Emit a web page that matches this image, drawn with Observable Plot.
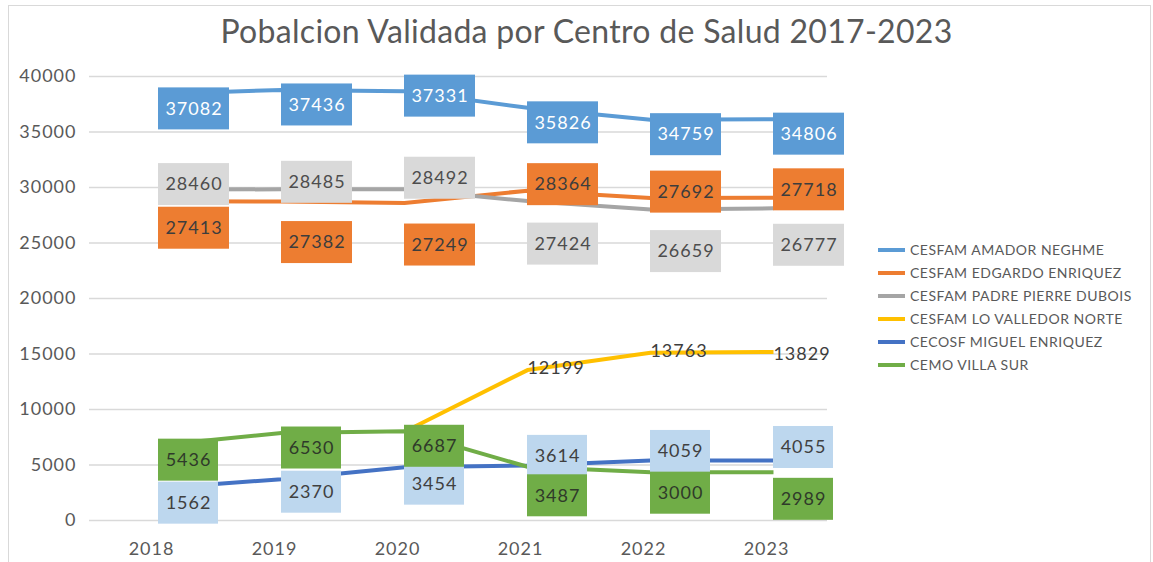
<!DOCTYPE html>
<html>
<head>
<meta charset="utf-8">
<script src="https://cdn.jsdelivr.net/npm/d3@7"></script>
<script src="https://cdn.jsdelivr.net/npm/@observablehq/plot@0.6"></script>
<style>
  html, body { margin: 0; padding: 0; background: #fff; }
  #wrap { position: relative; width: 1153px; height: 562px; overflow: hidden; font-family: "Lato", sans-serif; }
  #chart { position: absolute; left: 0; top: 0; }
  #frame { position: absolute; left: 8px; top: 5px; width: 1141px; height: 560px; border: 1px solid #d9d9d9; z-index: 5; pointer-events: none; }
  #title { position: absolute; left: 10px; width: 1153px; top: 11px; text-align: center; font-size: 32px; color: #595959; letter-spacing: 0.3px; }
  #legend { position: absolute; left: 878px; top: 238px; z-index: 6; }
  .row { height: 23px; display: flex; align-items: center; font-size: 14px; color: #595959; letter-spacing: 0.5px; }
  .sw { width: 27px; height: 4px; margin-right: 5px; }
</style>
</head>
<body>
<div id="wrap">
  <div id="chart"></div>
  <div id="frame"></div>
  <div id="title">Pobalcion Validada por Centro de Salud 2017-2023</div>
  <div id="legend"></div>
</div>
<script>
// ---- data ----
const years = [2018, 2019, 2020, 2021, 2022, 2023];
const seriesNames = [
  "CESFAM AMADOR NEGHME",
  "CESFAM EDGARDO ENRIQUEZ",
  "CESFAM PADRE PIERRE DUBOIS",
  "CESFAM LO VALLEDOR NORTE",
  "CECOSF MIGUEL ENRIQUEZ",
  "CEMO VILLA SUR"
];
const amadorNeghme      = [37082, 37436, 37331, 35826, 34759, 34806];
const edgardoEnriquez   = [27413, 27382, 27249, 28364, 27692, 27718];
const padrePierreDubois = [28460, 28485, 28492, 27424, 26659, 26777];
const loValledorNorte   = [null, null, 6650, 12199, 13763, 13829];
const miguelEnriquez    = [1562, 2370, 3454, 3614, 4059, 4055];
const cemoVillaSur      = [5436, 6530, 6687, 3487, 3000, 2989];
const yTicks = [0, 5000, 10000, 15000, 20000, 25000, 30000, 35000, 40000];

const seriesValues = [amadorNeghme, edgardoEnriquez, padrePierreDubois, loValledorNorte, miguelEnriquez, cemoVillaSur];

// ---- styling / layout (not data) ----
const lineColors = ["#5B9BD5", "#ED7D31", "#A5A5A5", "#FFC000", "#4472C4", "#70AD47"];
const labelStyles = [
  {box: "#5B9BD5", text: "#ffffff", w: 71},
  {box: "#ED7D31", text: "#3d3d3d", w: 71},
  {box: "#D9D9D9", text: "#4d4d4d", w: 71},
  {box: null,      text: "#3d3d3d", w: 57},
  {box: "#BDD7EE", text: "#404040", w: 60},
  {box: "#70AD47", text: "#2f3a2a", w: 60}
];
// manual vertical nudges of each data label (px), null = no label
const labelNudge = [
  [0, 0, -10, 0, 0, 0],
  [12, 26, 27, -21, -21, -23],
  [-20, -22, -26, 28, 27, 22],
  [null, null, null, -17, -16, -13],
  [0, -2, 2, -24, -24, -28],
  [0, 0, 0, 14, 6, 12]
];

const rows = [];
seriesNames.forEach((name, si) => {
  years.forEach((year, i) => rows.push({series: name, si, year, value: seriesValues[si][i], nudge: labelNudge[si][i]}));
});

const lineMarks = seriesNames.map((name, si) =>
  Plot.line(rows.filter(d => d.si === si), {
    x: "year", y: "value", stroke: lineColors[si], strokeWidth: 4,
    dx: 7, dy: -15, strokeLinejoin: "round", strokeLinecap: "butt"
  })
);

const labelMarks = [];
seriesNames.forEach((name, si) => {
  const st = labelStyles[si];
  const pts = rows.filter(d => d.si === si && d.value != null && d.nudge != null);
  for (const [dy, g] of d3.group(pts, d => d.nudge)) {
    if (st.box) {
      labelMarks.push(Plot.rect(g, {
        x1: "year", x2: "year", y1: "value", y2: "value",
        insetTop: -21, insetBottom: -21, insetLeft: 0, insetRight: -st.w,
        dx: 7, dy, fill: st.box
      }));
    }
    labelMarks.push(Plot.text(g, {
      x: "year", y: "value", text: d => String(d.value),
      dx: 7 + st.w / 2, dy, fill: st.text, fontSize: 18
    }));
  }
});

const chart = Plot.plot({
  width: 1153,
  height: 562,
  marginLeft: 89,
  marginRight: 326,
  marginTop: 76,
  marginBottom: 42,
  style: {fontFamily: "Lato, sans-serif", fontSize: "18px", color: "#595959", background: "transparent", letterSpacing: "1px"},
  x: {type: "point", domain: years, padding: 0.5},
  y: {domain: [0, 40000]},
  marks: [
    Plot.gridY(yTicks, {stroke: "#d9d9d9", strokeOpacity: 1, strokeWidth: 1.5}),
    Plot.axisY(yTicks, {tickSize: 0, tickPadding: 13, tickFormat: d => String(d), fontSize: 18, label: null}),
    Plot.axisX(years, {tickSize: 0, tickPadding: 22, tickFormat: d => String(d), fontSize: 18, label: null}),
    ...lineMarks,
    ...labelMarks
  ]
});
document.getElementById("chart").appendChild(chart);

// legend
const legend = document.getElementById("legend");
seriesNames.forEach((name, si) => {
  const r = document.createElement("div");
  r.className = "row";
  r.innerHTML = `<span class="sw" style="background:${lineColors[si]}"></span><span>${name}</span>`;
  legend.appendChild(r);
});
</script>
</body>
</html>
